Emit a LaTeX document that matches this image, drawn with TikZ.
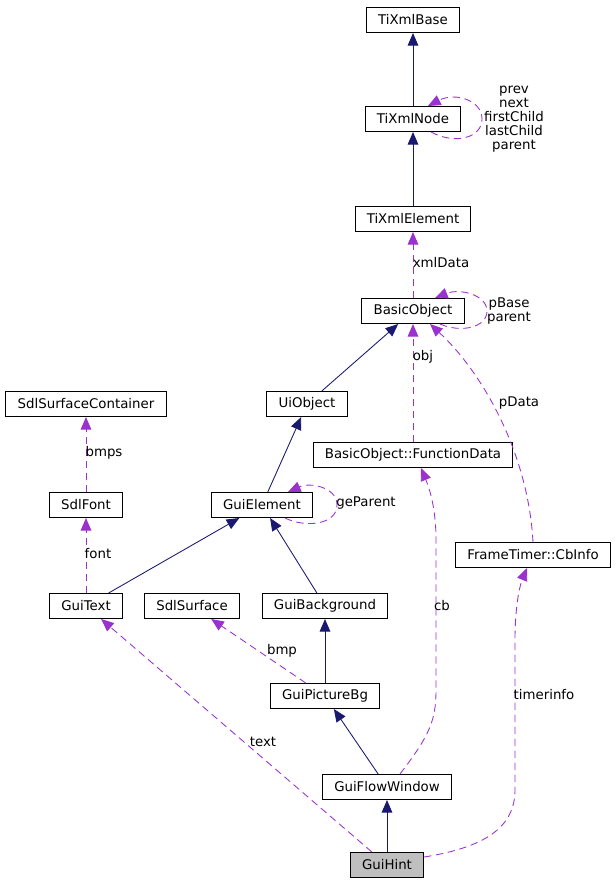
\documentclass[tikz,border=0pt]{standalone}
\usepackage{fontspec}
\setmainfont{DejaVu Sans}
\usetikzlibrary{arrows.meta,calc,positioning}
\definecolor{edgeblue}{RGB}{25,25,112}
\definecolor{edgepurple}{RGB}{154,50,205}
\definecolor{hintgray}{RGB}{191,191,191}

\begin{document}
\begin{tikzpicture}[x=0.75pt,y=-0.75pt,
  cls/.style={draw,line width=0.75pt,inner xsep=8.8pt,minimum height=18.75pt,
    font=\fontsize{10}{12}\selectfont},
  inherit/.style={edgeblue,line width=0.65pt,-{Triangle[length=9.5pt,width=8pt]}},
  usage/.style={edgepurple,line width=0.65pt,dash pattern=on 5.5pt off 3.5pt,
    -{Triangle[length=9.5pt,width=8pt]}},
  lbl/.style={font=\fontsize{10}{10.5}\selectfont,inner sep=0pt,align=center}]
        \useasboundingbox (0,0) rectangle (616,883);
        % Classes
        \node[cls] (tixmlbase) at (413,20) {TiXmlBase};
        \node[cls] (tixmlnode) at (413,119) {TiXmlNode};
        \node[cls] (tixmlelement) at (413,219) {TiXmlElement};
        \node[cls] (basicobject) at (413,311) {BasicObject};
        \node[cls] (uiobject) at (307,404) {UiObject};
        \node[cls] (functiondata) at (413,455) {BasicObject::FunctionData};
        \node[cls] (surfacecontainer) at (86,404) {SdlSurfaceContainer};
        \node[cls] (sdlfont) at (86,505) {SdlFont};
        \node[cls] (guielement) at (262,505) {GuiElement};
        \node[cls] (guitext) at (86,606) {GuiText};
        \node[cls] (sdlsurface) at (192,606) {SdlSurface};
        \node[cls] (guibackground) at (325,606) {GuiBackground};
        \node[cls] (cbinfo) at (533,555) {FrameTimer::CbInfo};
        \node[cls] (guipicturebg) at (325,696) {GuiPictureBg};
        \node[cls] (guiflowwindow) at (387,787) {GuiFlowWindow};
        \node[cls,fill=hintgray] (guihint) at (387,865) {GuiHint};
        % Inheritance
        \draw[inherit] (tixmlnode) -- (tixmlbase);
        \draw[inherit] (tixmlelement) -- (tixmlnode);
        \draw[inherit] (uiobject) -- (basicobject);
        \draw[inherit] (guielement) -- (uiobject);
        \draw[inherit] (guitext) -- (guielement);
        \draw[inherit] (guibackground) -- (guielement);
        \draw[inherit] (guipicturebg) -- (guibackground);
        \draw[inherit] (guiflowwindow) -- (guipicturebg);
        \draw[inherit] (guihint) -- (guiflowwindow);
        % Usage
        \draw[usage] (basicobject) -- (tixmlelement);
        \draw[usage] (functiondata) -- (basicobject);
        \draw[usage] (sdlfont) -- (surfacecontainer);
        \draw[usage] (guitext) -- (sdlfont);
        \draw[usage] (guipicturebg) -- (sdlsurface);
        \draw[usage] (guihint) -- (guitext);
        \draw[usage] (cbinfo.north) .. controls (528,450) and (480,370)
          .. ($(basicobject.south)+(17,0)$);
        \draw[usage] ($(guiflowwindow.north)+(13,0)$) .. controls (430,735) and (436,720)
          .. (436,690) -- (436,540) .. controls (436,505) and (428,485)
          .. ($(functiondata.south)+(8,0)$);
        \draw[usage] ($(guihint.east)+(0,-8)$) .. controls (480,848) and (515,830)
          .. (515,790) -- (515,640) .. controls (515,605) and (520,585)
          .. ($(cbinfo.south)+(-6,0)$);
        % Self loops
        \draw[usage] ($(tixmlnode.south)+(18,0)$) .. controls (455,145) and (482,138)
          .. (482,119) .. controls (482,100) and (455,92) .. ($(tixmlnode.north)+(15,0)$);
        \draw[usage] ($(basicobject.south)+(27,0)$) .. controls (460,333) and (487,328)
          .. (487,311) .. controls (487,295) and (460,288) .. ($(basicobject.north)+(22,0)$);
        \draw[usage] ($(guielement.south)+(23,0)$) .. controls (305,528) and (337,525)
          .. (337,505) .. controls (337,487) and (310,482) .. ($(guielement.north)+(26,0)$);
        % Labels
        \node[lbl] (l-tixmlnode) at (514,119) {prev\\next\\firstChild\\lastChild\\parent};
        \node[lbl] (l-xmldata) at (441,263) {xmlData};
        \node[lbl] (l-basicobject) at (509,311) {pBase\\parent};
        \node[lbl] (l-obj) at (423,357) {obj};
        \node[lbl] (l-pdata) at (519,403) {pData};
        \node[lbl] (l-bmps) at (104,453) {bmps};
        \node[lbl] (l-font) at (98,554) {font};
        \node[lbl] (l-geparent) at (366,503) {geParent};
        \node[lbl] (l-cb) at (442,606) {cb};
        \node[lbl] (l-bmp) at (282,651) {bmp};
        \node[lbl] (l-text) at (263,742) {text};
        \node[lbl] (l-timerinfo) at (544,695) {timerinfo};
      \end{tikzpicture}
\end{document}
